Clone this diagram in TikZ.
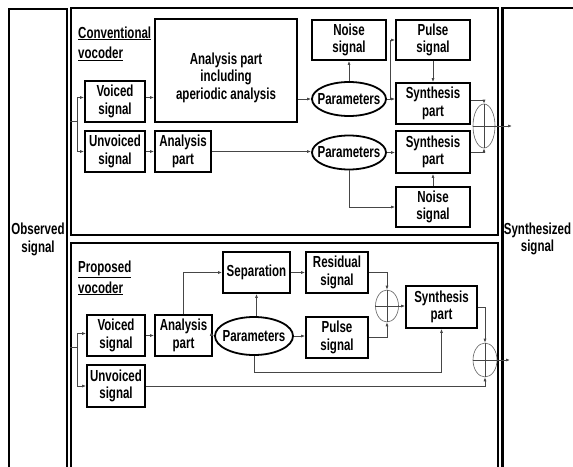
\documentclass[tikz,border=0pt]{standalone}
\usepackage{fontspec}
\newfontfamily\nf{Liberation Sans}[FakeStretch=0.72]
\usetikzlibrary{shapes.geometric,arrows.meta}
\begin{document}
\begin{tikzpicture}[x=1pt,y=-1pt,
  every node/.style={font=\nf\bfseries\fontsize{16}{17.5}\selectfont},
  bx/.style={draw, line width=1.8pt, inner sep=0pt, align=center},
  pan/.style={draw, line width=2.2pt, inner sep=0pt, align=center},
  par/.style={draw, ellipse, line width=1.8pt, inner sep=0pt, minimum width=74pt, minimum height=34pt},
  sm/.style={draw=gray!75!black, ellipse, line width=0.6pt, inner sep=0pt},
  ln/.style={draw=gray!55!black, line width=0.7pt},
  ar/.style={ln, -{Latex[length=4pt,width=3pt]}},
  lab/.style={anchor=base west, inner sep=0pt}
]
\useasboundingbox (0,0) rectangle (573,466);
\clip (0,0) rectangle (573,466);
\fill[white] (0,0) rectangle (573,466);

% columns and panels
\node[pan, line width=1.8pt, minimum width=58pt, minimum height=461pt] (obs) at (38,239.5) {Observed\\signal};
\node[pan, minimum width=76pt, minimum height=462pt,
  label={[xshift=-3pt, align=center]center:Synthesized\\signal}] (syn) at (540.5,239) {};
\node[pan, minimum width=427pt, minimum height=227pt] (cpan) at (284.5,121.5) {};
\node[pan, minimum width=427pt, minimum height=232pt] (ppan) at (284.5,359) {};

% labels
\node[lab] (cl1) at (78,38) {\underline{Conventional}};
\node[lab] (cl2) at (78,58.5) {\underline{vocoder}};
\node[lab] (pl1) at (78,272) {\underline{Proposed}};
\node[lab] (pl2) at (78,293) {\underline{vocoder}};

% conventional vocoder
\node[bx, minimum width=60pt, minimum height=41pt] (cv) at (115,101.5) {Voiced\\signal};
\node[bx, minimum width=60pt, minimum height=41pt] (cu) at (115,151.5) {Unvoiced\\signal};
\node[bx, minimum width=142pt, minimum height=103pt,
  label={[yshift=-7pt, align=center]center:Analysis part\\including\\aperiodic analysis}] (cA) at (226,70.5) {};
\node[bx, minimum width=56pt, minimum height=41pt] (ca) at (183,151.5) {Analysis\\part};
\node[bx, minimum width=74pt, minimum height=40pt] (cn1) at (349,40) {Noise\\signal};
\node[bx, minimum width=74pt, minimum height=40pt] (cpu) at (433,40) {Pulse\\signal};
\node[par] (cp1) at (349,99) {\makebox[0pt]{Parameters}};
\node[bx, minimum width=74pt, minimum height=41pt] (cs1) at (433,103.5) {Synthesis\\part};
\node[bx, minimum width=74pt, minimum height=42pt] (cs2) at (433,152) {Synthesis\\part};
\node[par] (cp2) at (349,152.5) {\makebox[0pt]{Parameters}};
\node[bx, minimum width=74pt, minimum height=40pt] (cn2) at (433,207) {Noise\\signal};
\node[sm, minimum width=22pt, minimum height=44pt] (csum) at (484,126) {};
\coordinate (j1) at (77,121.5);
\coordinate (b1) at (390,99);
\coordinate (out1) at (512,126);

\draw[ln] (csum.north) -- (csum.south) (csum.west) -- (csum.east);
\draw[ln] (cpan.west) -- (j1);
\draw[ar] (j1) |- ([yshift=4pt]cv.west);
\draw[ar] (j1) |- (cu.west);
\draw[ar] ([yshift=4pt]cv.east) -- ([yshift=4pt]cv.east -| cA.west);
\draw[ar] (cu.east) -- (ca.west);
\draw[ar] (cA.east |- cp1) -- (cp1.west);
\draw[ar] (cp1.north) -- (cn1.south);
\draw[ar] (cp1.east) -- (cp1.east -| cs1.west);
\draw[ar] (b1) |- (cpu.west);
\draw[ar] (cpu.south) -- (cs1.north);
\draw[ar] ([yshift=3pt]cs1.east) -| (csum.north);
\draw[ar] (cs2.east) -| (csum.south);
\draw[ar] (csum.east) -- (out1);
\draw[ar] (ca.east) -- (ca.east -| cp2.west);
\draw[ar] (cp2.east) -- (cp2.east -| cs2.west);
\draw[ar] (cp2.south) |- (cn2.west);
\draw[ar] (cn2.north) -- (cs2.south);

% proposed vocoder
\node[bx, minimum width=58pt, minimum height=41pt] (pv) at (116,335.5) {Voiced\\signal};
\node[bx, minimum width=58pt, minimum height=42pt] (pu) at (116,386) {Unvoiced\\signal};
\node[bx, minimum width=57pt, minimum height=41pt] (pa) at (183.5,335.5) {Analysis\\part};
\node[par, minimum width=78pt, minimum height=38pt] (pp) at (254,336) {\makebox[0pt]{Parameters}};
\node[bx, minimum width=67pt, minimum height=41pt] (psep) at (256.5,272.5) {Separation};
\node[bx, minimum width=62pt, minimum height=41pt] (pres) at (337,272.5) {Residual\\signal};
\node[bx, minimum width=62pt, minimum height=41pt] (ppu) at (337,337.5) {Pulse\\signal};
\node[sm, minimum width=23pt, minimum height=32pt] (psum1) at (387,306) {};
\node[bx, minimum width=71pt, minimum height=42pt] (psyn) at (441.5,307) {Synthesis\\part};
\node[sm, minimum width=24pt, minimum height=34pt] (psum2) at (485,360) {};
\coordinate (j2) at (77,347);
\coordinate (k1) at (0,372);
\coordinate (out2) at (510,360);

\draw[ln] (psum1.north) -- (psum1.south) (psum1.west) -- (psum1.east);
\draw[ln] (psum2.north) -- (psum2.south) (psum2.west) -- (psum2.east);
\draw[ln] (ppan.west |- j2) -- (j2);
\draw[ar] (j2) |- ([yshift=2pt]pv.west);
\draw[ar] (j2) |- (pu.west);
\draw[ar] (pv.east) -- (pa.west);
\draw[ar] (pa.east) -- (pp.west);
\draw[ar] (pa.north) |- (psep.west);
\draw[ar] (psep.south |- pp.north) -- (psep.south);
\draw[ar] (pp.east) -- (pp.east -| ppu.west);
\draw[ar] (psep.east) -- (pres.west);
\draw[ar] (pres.east) -| (psum1.north);
\draw[ar] (ppu.east) -| (psum1.south);
\draw[ar] (psum1.east) -- (psum1.east -| psyn.west);
\draw[ar] (pp.south) |- (psyn.south |- k1) -- (psyn.south);
\draw[ar] (psyn.east) -| (psum2.north);
\draw[ar] (pu.east) -| (psum2.south);
\draw[ar] (psum2.east) -- (out2);
\end{tikzpicture}
\end{document}
